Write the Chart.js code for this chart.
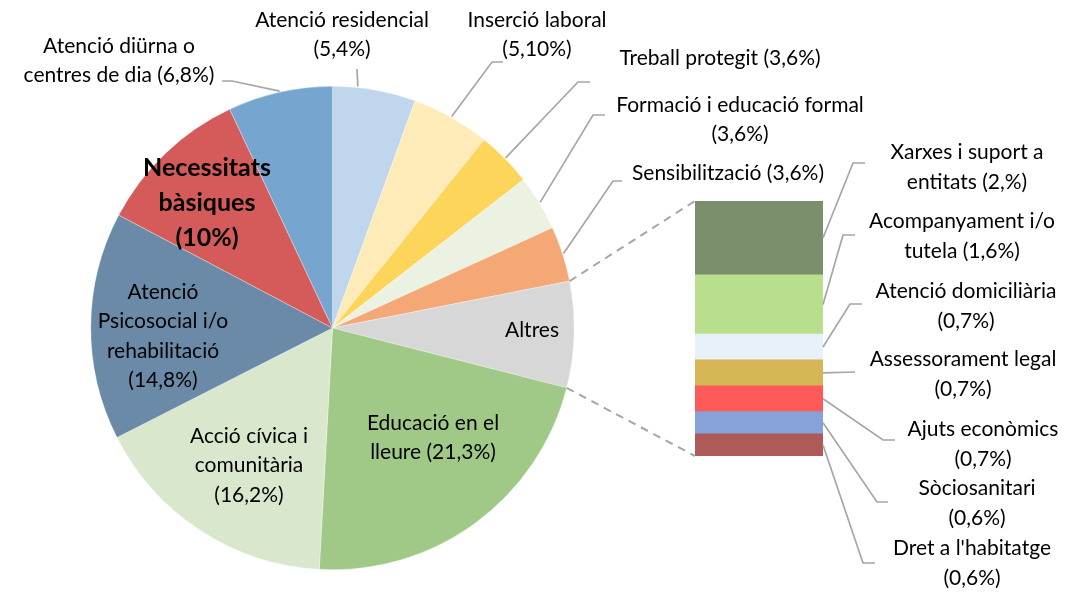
<!DOCTYPE html>
<html lang="ca">
<head>
<meta charset="UTF-8">
<title>Àmbits d'actuació</title>
<script src="https://cdn.jsdelivr.net/npm/chart.js"></script>
<style>
  body { margin: 0; background: #fff; }
  #wrap { position: relative; width: 1065px; height: 597px; }
  #wrap canvas { position: absolute; left: 0; top: 0; }
</style>
</head>
<body>
<div id="wrap">
  <canvas id="pastis" width="1065" height="597"></canvas>
  <canvas id="barra" width="1065" height="597"></canvas>
</div>
<script>
// dades del pastís (en sentit horari des de dalt)
const ambits = ['Atenció residencial', 'Inserció laboral', 'Treball protegit', 'Formació i educació formal',
  'Sensibilització', 'Altres', 'Educació en el lleure', 'Acció cívica i comunitària',
  'Atenció Psicosocial i/o rehabilitació', 'Necessitats bàsiques', 'Atenció diürna o centres de dia'];
const percentatges = [5.4, 5.1, 3.6, 3.6, 3.6, 6.9, 21.3, 16.2, 14.8, 10, 6.8];
const coloursPastis = ['#bfd6ed', '#feebb8', '#fed55b', '#ebf2e2', '#f3a875', '#d7d7d7', '#a0c987',
  '#d9e8cc', '#6a8aa8', '#d55b5a', '#76a5cf'];

// dades de la barra "Altres" (de dalt a baix)
const altres = ['Xarxes i suport a entitats', 'Acompanyament i/o tutela', 'Atenció domiciliària',
  'Assessorament legal', 'Ajuts econòmics', 'Sòciosanitari', "Dret a l'habitatge"];
const percentatgesAltres = [2.0, 1.6, 0.7, 0.7, 0.7, 0.6, 0.6];
const coloursAltres = ['#7c8f6c', '#b8e08c', '#e8f0f8', '#d5b555', '#ff5959', '#86a2d9', '#ad5a59'];

const FONT = 'Lato, "Open Sans", sans-serif';
const GRIS = '#a6a6a6';

// posicions de les etiquetes (només disseny); f = punt de l'arc on acaba la línia
const etiquetesFora = [
  { i: 0, lines: ['Atenció residencial', '(5,4%)'], x: 342, y: 20, pts: [[357, 69]], f: 0.3 },
  { i: 1, lines: ['Inserció laboral', '(5,10%)'], x: 537, y: 20, pts: [[503, 62], [492, 62]] },
  { i: 2, lines: ['Treball protegit (3,6%)'], x: 720, y: 58, pts: [[590, 82], [578, 82]] },
  { i: 3, lines: ['Formació i educació formal', '(3,6%)'], x: 740, y: 105, pts: [[605, 115], [593, 115]] },
  { i: 4, lines: ['Sensibilització (3,6%)'], x: 728, y: 173, pts: [[622, 181], [613, 181]] },
  { i: 10, lines: ['Atenció diürna o', 'centres de dia (6,8%)'], x: 119, y: 46, pts: [[222, 81], [232, 81]] }
];
const etiquetesDins = [
  { lines: ['Necessitats', 'bàsiques', '(10%)'], x: 207, y: 168, bold: true },
  { lines: ['Atenció', 'Psicosocial i/o', 'rehabilitació', '(14,8%)'], x: 163, y: 292 },
  { lines: ['Altres'], x: 532, y: 330 },
  { lines: ['Educació en el', 'lleure (21,3%)'], x: 433, y: 423 },
  { lines: ['Acció cívica i', 'comunitària', '(16,2%)'], x: 249, y: 436 }
];
const etiquetesBarra = [
  { lines: ['Xarxes i suport a', 'entitats (2,%)'], x: 967, y: 152, pts: [[865, 163], [853, 163]] },
  { lines: ['Acompanyament i/o', 'tutela (1,6%)'], x: 962, y: 221, pts: [[855, 235], [843, 235]] },
  { lines: ['Atenció domiciliària', '(0,7%)'], x: 966, y: 291, pts: [[862, 304], [850, 304]] },
  { lines: ['Assessorament legal', '(0,7%)'], x: 963, y: 359, pts: [[855, 372]] },
  { lines: ['Ajuts econòmics', '(0,7%)'], x: 983, y: 429, pts: [[895, 440], [883, 440]] },
  { lines: ['Sòciosanitari', '(0,6%)'], x: 977, y: 488, pts: [[888, 502], [877, 502]] },
  { lines: ["Dret a l'habitatge", '(0,6%)'], x: 972, y: 548, pts: [[875, 563], [863, 563]] }
];

function textLines(ctx, e, size, lh) {
  ctx.font = (e.bold ? 'bold ' : '') + size + 'px ' + FONT;
  ctx.fillStyle = '#000';
  ctx.textAlign = 'center';
  ctx.textBaseline = 'middle';
  e.lines.forEach((l, k) => ctx.fillText(l, e.x, e.y + k * lh));
}

function polyline(ctx, pts) {
  ctx.beginPath();
  ctx.moveTo(pts[0][0], pts[0][1]);
  for (let k = 1; k < pts.length; k++) ctx.lineTo(pts[k][0], pts[k][1]);
  ctx.stroke();
}

const pieChart = new Chart(document.getElementById('pastis'), {
  type: 'pie',
  data: {
    labels: ambits,
    datasets: [{
      data: percentatges,
      backgroundColor: coloursPastis,
      borderColor: 'rgba(255,255,255,0.5)',
      borderWidth: 0.6,
      hoverOffset: 0
    }]
  },
  options: {
    responsive: false,
    animation: false,
    events: [],
    layout: { padding: { left: 90, right: 490, top: 86, bottom: 27 } },
    plugins: { legend: { display: false }, tooltip: { enabled: false } }
  }
});

const barChart = new Chart(document.getElementById('barra'), {
  type: 'bar',
  data: {
    labels: ['Altres'],
    datasets: altres.map((nom, k) => ({
      label: nom,
      data: [percentatgesAltres[k]],
      backgroundColor: coloursAltres[k],
      borderWidth: 0
    })).reverse()
  },
  options: {
    responsive: false,
    animation: false,
    events: [],
    barPercentage: 1,
    categoryPercentage: 1,
    layout: { padding: { left: 695, right: 242, top: 201, bottom: 141 } },
    scales: {
      x: { display: false, stacked: true },
      y: { display: false, stacked: true, min: 0, max: percentatgesAltres.reduce((a, b) => a + b, 0) }
    },
    plugins: { legend: { display: false }, tooltip: { enabled: false } }
  },
  plugins: [{
    id: 'etiquetes',
    afterDraw(chart) {
      const ctx = chart.ctx;
      const arcs = pieChart.getDatasetMeta(0).data;
      ctx.save();

      // línies guia del pastís
      ctx.strokeStyle = GRIS;
      ctx.lineWidth = 1.7;
      etiquetesFora.forEach(e => {
        const a = arcs[e.i];
        const f = e.f === undefined ? 0.5 : e.f;
        const ang = a.startAngle + (a.endAngle - a.startAngle) * f;
        const r = a.outerRadius + 1;
        polyline(ctx, e.pts.concat([[a.x + Math.cos(ang) * r, a.y + Math.sin(ang) * r]]));
      });

      // línies guia de la barra
      const n = altres.length;
      etiquetesBarra.forEach((e, k) => {
        const bar = chart.getDatasetMeta(n - 1 - k).data[0];
        polyline(ctx, e.pts.concat([[bar.x + bar.width / 2, (bar.y + bar.base) / 2]]));
      });

      // connectors discontinus entre "Altres" i la barra
      const alt = arcs[5];
      const top = chart.getDatasetMeta(n - 1).data[0];
      const bot = chart.getDatasetMeta(0).data[0];
      const left = top.x - top.width / 2;
      ctx.lineWidth = 2;
      ctx.setLineDash([8, 6]);
      polyline(ctx, [[alt.x + Math.cos(alt.startAngle) * alt.outerRadius, alt.y + Math.sin(alt.startAngle) * alt.outerRadius], [left, top.y]]);
      polyline(ctx, [[alt.x + Math.cos(alt.endAngle) * alt.outerRadius, alt.y + Math.sin(alt.endAngle) * alt.outerRadius], [left, bot.base]]);
      ctx.setLineDash([]);

      etiquetesFora.forEach(e => textLines(ctx, e, 21, 29));
      etiquetesBarra.forEach(e => textLines(ctx, e, 21, 30));
      etiquetesDins.forEach(e => textLines(ctx, e, e.bold ? 25 : 21, e.bold ? 35 : 29.5));
      ctx.restore();
    }
  }]
});
</script>
</body>
</html>
